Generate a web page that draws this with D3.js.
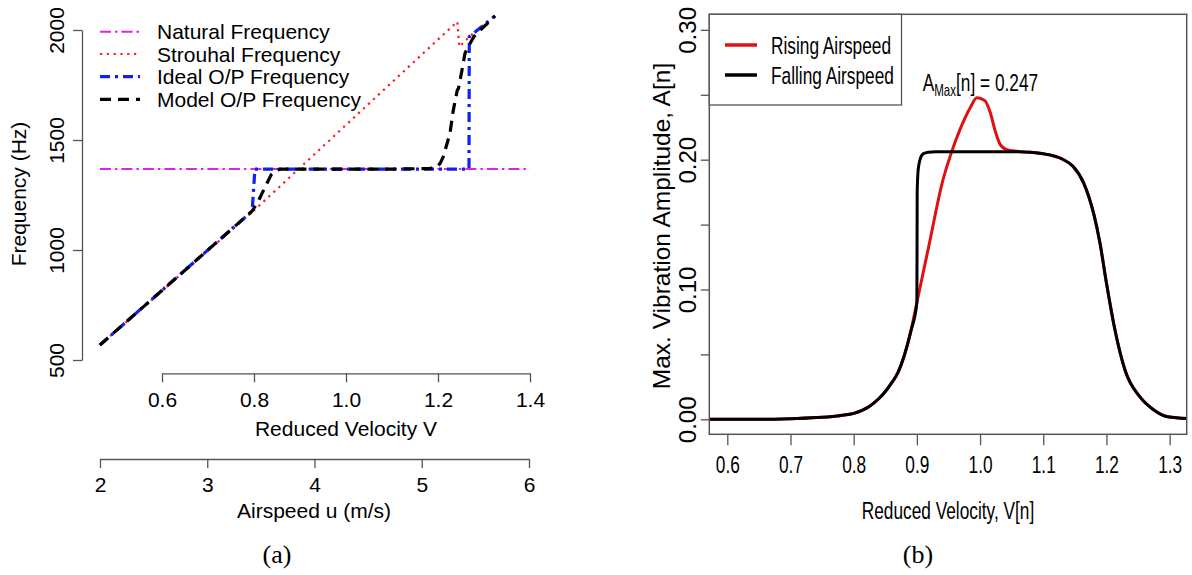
<!DOCTYPE html>
<html>
<head>
<meta charset="utf-8">
<script src="https://cdn.jsdelivr.net/npm/d3@7"></script>
<style>
  body { margin: 0; background: #fff; }
  text { font-family: "Liberation Sans", Arial, sans-serif; fill: #000; }
  .cap { font-family: "Liberation Serif", "Times New Roman", serif; }
</style>
</head>
<body>
<div id="chart"></div>
<script>
// ---- panel (a) data ----
var natV = [0.465, 1.40];
var natF = [1368, 1368];

var strouhalV = [0.465, 0.80, 1.242, 1.2463, 1.28, 1.324];
var strouhalF = [568, 1180, 2038, 1924, 1992, 2064];

var idealV = [0.465, 0.796, 0.802, 1.2674, 1.268, 1.28, 1.324];
var idealF = [568, 1177, 1368, 1368, 1970, 1990, 2064];

var modelV = [0.465, 0.796, 0.81, 0.825, 0.838, 0.848, 0.858, 0.9, 1.0, 1.1, 1.18, 1.197, 1.205, 1.2115, 1.226, 1.2333, 1.242, 1.2445, 1.2515, 1.2587, 1.2696, 1.278, 1.30, 1.324];
var modelF = [568, 1177, 1225, 1290, 1344, 1362, 1368, 1368, 1368, 1368, 1370, 1375, 1395, 1424, 1530, 1636, 1727, 1735, 1810, 1894, 1939, 1970, 2015, 2064];

var legendA = ["Natural Frequency", "Strouhal Frequency", "Ideal O/P Frequency", "Model O/P Frequency"];
var freqTicks = [500, 1000, 1500, 2000];
var velTicks = [0.6, 0.8, 1.0, 1.2, 1.4];
var airTicks = [2, 3, 4, 5, 6];

// ---- panel (b) data ----
var risingV = [0.55, 0.65, 0.70, 0.75, 0.78, 0.80, 0.824, 0.84, 0.852, 0.86, 0.87, 0.88, 0.89, 0.90, 0.92, 0.94, 0.955, 0.968, 0.984, 0.995, 1.0076, 1.016, 1.024, 1.0315, 1.042, 1.06, 1.10, 1.13, 1.147, 1.164, 1.18, 1.19, 1.20, 1.213, 1.23, 1.2527, 1.275, 1.297, 1.35];
var risingA = [0, 0, 0.0005, 0.0015, 0.003, 0.0046, 0.0097, 0.016, 0.0226, 0.028, 0.036, 0.049, 0.067, 0.09, 0.136, 0.182, 0.206, 0.223, 0.2396, 0.2478, 0.2455, 0.2365, 0.222, 0.212, 0.2078, 0.2064, 0.2046, 0.2005, 0.1949, 0.182, 0.158, 0.135, 0.105, 0.07, 0.037, 0.0174, 0.0072, 0.002, 0];

var fallingV = [0.55, 0.65, 0.70, 0.75, 0.78, 0.80, 0.824, 0.84, 0.852, 0.86, 0.87, 0.88, 0.89, 0.90, 0.9005, 0.902, 0.905, 0.91, 0.918, 0.93, 1.0, 1.06, 1.10, 1.13, 1.147, 1.164, 1.18, 1.19, 1.20, 1.213, 1.23, 1.2527, 1.275, 1.297, 1.35];
var fallingA = [0, 0, 0.0005, 0.0015, 0.003, 0.0046, 0.0097, 0.016, 0.0226, 0.028, 0.036, 0.049, 0.067, 0.09, 0.175, 0.192, 0.200, 0.2045, 0.2058, 0.2062, 0.2062, 0.2062, 0.2046, 0.2005, 0.1949, 0.182, 0.158, 0.135, 0.105, 0.07, 0.037, 0.0174, 0.0072, 0.002, 0];

var legendB = ["Rising Airspeed", "Falling Airspeed"];
var ampTicks = [0, 0.05, 0.10, 0.15, 0.20, 0.25, 0.30];
var ampLabels = [0, 0.10, 0.20, 0.30];
var velTicksB = [0.6, 0.7, 0.8, 0.9, 1.0, 1.1, 1.2, 1.3];

var svg = d3.select("#chart")
    .append("svg")
    .attr("width", 1192)
    .attr("height", 575);

function zip(a, b) {
    return a.map(function(d, i) { return [d, b[i]]; });
}

// ================= panel (a) =================
var xA = d3.scaleLinear().domain([0.6, 1.4]).range([162, 530]);
var yA = d3.scaleLinear().domain([500, 2000]).range([360, 30]);
var uA = d3.scaleLinear().domain([2, 6]).range([100, 529]);

var lineA = d3.line()
    .x(function(d) { return xA(d[0]); })
    .y(function(d) { return yA(d[1]); });

var seriesA = [
    {v: natV, f: natF, color: "#e020ec", width: 2, dash: "11 4 2.5 4"},
    {v: strouhalV, f: strouhalF, color: "#ff1a1a", width: 2.2, dash: "2.2 4.6"},
    {v: idealV, f: idealF, color: "#1020f0", width: 3.2, dash: "10 5 3 5"},
    {v: modelV, f: modelF, color: "#000", width: 3.2, dash: "11 7"}
];

seriesA.forEach(function(s) {
    svg.append("path")
        .attr("d", lineA(zip(s.v, s.f)))
        .attr("fill", "none")
        .attr("stroke", s.color)
        .attr("stroke-width", s.width)
        .attr("stroke-dasharray", s.dash);
});

// axes, R style
var yAxisA = svg.append("g")
    .attr("transform", "translate(82,0)")
    .call(d3.axisLeft(yA).tickValues(freqTicks).tickSize(9).tickSizeOuter(0).tickFormat(d3.format("d")));
yAxisA.selectAll(".tick text")
    .attr("x", 0).attr("dy", "0.35em")
    .attr("text-anchor", "middle")
    .attr("transform", "translate(-25,0) rotate(-90)");

var xAxisA = svg.append("g")
    .attr("transform", "translate(0,373.3)")
    .call(d3.axisBottom(xA).tickValues(velTicks).tickSize(9).tickPadding(9.5).tickSizeOuter(0).tickFormat(d3.format(".1f")));

var uAxisA = svg.append("g")
    .attr("transform", "translate(0,459)")
    .call(d3.axisBottom(uA).tickValues(airTicks).tickSize(9).tickPadding(9.5).tickSizeOuter(0).tickFormat(d3.format("d")));

[yAxisA, xAxisA, uAxisA].forEach(function(ax) {
    ax.selectAll("path, line").attr("stroke", "#555").attr("stroke-width", 1.3);
    ax.selectAll("text").style("font-size", "21px").attr("fill", "#000");
});

svg.append("text")
    .attr("transform", "translate(19,194) rotate(-90)")
    .attr("text-anchor", "middle")
    .attr("dy", "0.35em")
    .style("font-size", "21px")
    .text("Frequency (Hz)");

svg.append("text")
    .attr("x", 346).attr("y", 436)
    .attr("text-anchor", "middle")
    .style("font-size", "21px")
    .text("Reduced Velocity V");

svg.append("text")
    .attr("x", 314).attr("y", 518)
    .attr("text-anchor", "middle")
    .style("font-size", "21px")
    .text("Airspeed u (m/s)");

// legend (a)
var rowsA = [31.7, 54, 76.7, 99.3];
seriesA.forEach(function(s, i) {
    svg.append("line")
        .attr("x1", 100).attr("x2", 140)
        .attr("y1", rowsA[i]).attr("y2", rowsA[i])
        .attr("stroke", s.color)
        .attr("stroke-width", s.width)
        .attr("stroke-dasharray", s.dash);
    svg.append("text")
        .attr("x", 157).attr("y", rowsA[i] + 7.5)
        .style("font-size", "21px")
        .text(legendA[i]);
});

svg.append("text")
    .attr("class", "cap")
    .attr("x", 277).attr("y", 563)
    .attr("text-anchor", "middle")
    .style("font-size", "26px")
    .text("(a)");

// ================= panel (b) =================
var bLeft = 709.3, bRight = 1186.7, bTop = 14.3, bBottom = 434.3;
var xB = d3.scaleLinear().domain([0.5715, 1.327]).range([bLeft, bRight]);
var yB = d3.scaleLinear().domain([-0.01156, 0.312]).range([bBottom, bTop]);
var sx = 0.72;

svg.append("clipPath").attr("id", "clipB")
    .append("rect")
    .attr("x", bLeft).attr("y", bTop)
    .attr("width", bRight - bLeft).attr("height", bBottom - bTop);

var lineB = d3.line()
    .curve(d3.curveMonotoneX)
    .x(function(d) { return xB(d[0]); })
    .y(function(d) { return yB(d[1]); });

var gB = svg.append("g").attr("clip-path", "url(#clipB)");
gB.append("path")
    .attr("d", lineB(zip(risingV, risingA)))
    .attr("fill", "none")
    .attr("stroke", "#e01010")
    .attr("stroke-width", 3);
gB.append("path")
    .attr("d", lineB(zip(fallingV, fallingA)))
    .attr("fill", "none")
    .attr("stroke", "#000")
    .attr("stroke-width", 3);

// axes b
var yAxisB = svg.append("g")
    .attr("transform", "translate(" + bLeft + ",0)")
    .call(d3.axisLeft(yB).tickValues(ampTicks).tickSize(8.5).tickSizeOuter(0)
        .tickFormat(function(d) {
            var keep = ampLabels.some(function(l) { return Math.abs(l - d) < 1e-9; });
            return keep ? d3.format(".2f")(d) : "";
        }));
yAxisB.select(".domain").remove();
yAxisB.selectAll(".tick text")
    .attr("x", 0).attr("dy", "0.35em")
    .attr("text-anchor", "middle")
    .attr("transform", "translate(-22,0) rotate(-90)")
    .style("font-size", "24px");

var xAxisB = svg.append("g")
    .attr("transform", "translate(0," + bBottom + ")")
    .call(d3.axisBottom(xB).tickValues(velTicksB).tickSize(11).tickSizeOuter(0).tickFormat(d3.format(".1f")));
xAxisB.select(".domain").remove();
xAxisB.selectAll(".tick text")
    .attr("y", 0).attr("dy", 0)
    .attr("transform", "translate(0,39) scale(" + sx + ",1)")
    .style("font-size", "24px");

[yAxisB, xAxisB].forEach(function(ax) {
    ax.selectAll("line").attr("stroke", "#555").attr("stroke-width", 1.3);
    ax.selectAll("text").attr("fill", "#000");
});

// plot box
svg.append("rect")
    .attr("x", bLeft).attr("y", bTop)
    .attr("width", bRight - bLeft).attr("height", bBottom - bTop)
    .attr("fill", "none")
    .attr("stroke", "#555")
    .attr("stroke-width", 1.5);

svg.append("text")
    .attr("transform", "translate(661,226) rotate(-90)")
    .attr("text-anchor", "middle")
    .attr("dy", "0.35em")
    .style("font-size", "24.5px")
    .text("Max. Vibration Amplitude, A[n]");

svg.append("text")
    .attr("transform", "translate(948,519) scale(" + sx + ",1)")
    .attr("text-anchor", "middle")
    .style("font-size", "24px")
    .text("Reduced Velocity, V[n]");

// legend b
svg.append("rect")
    .attr("x", bLeft).attr("y", bTop)
    .attr("width", 901.5 - bLeft).attr("height", 105 - bTop)
    .attr("fill", "#fff")
    .attr("stroke", "#555")
    .attr("stroke-width", 1.3);
var rowsB = [45, 75];
var colorsB = ["#e01010", "#000"];
legendB.forEach(function(name, i) {
    svg.append("line")
        .attr("x1", 725).attr("x2", 757)
        .attr("y1", rowsB[i]).attr("y2", rowsB[i])
        .attr("stroke", colorsB[i])
        .attr("stroke-width", 3.5);
    svg.append("text")
        .attr("transform", "translate(771," + (rowsB[i] + 8.6) + ") scale(" + sx + ",1)")
        .style("font-size", "24px")
        .text(name);
});

// peak annotation
var ann = svg.append("text")
    .attr("transform", "translate(922.7,90.7) scale(" + sx + ",1)")
    .style("font-size", "24px");
ann.append("tspan").text("A");
ann.append("tspan").attr("dy", 5).style("font-size", "16px").text("Max");
ann.append("tspan").attr("dy", -5).text("[n] = 0.247");

svg.append("text")
    .attr("class", "cap")
    .attr("x", 918).attr("y", 563)
    .attr("text-anchor", "middle")
    .style("font-size", "26px")
    .text("(b)");
</script>
</body>
</html>
